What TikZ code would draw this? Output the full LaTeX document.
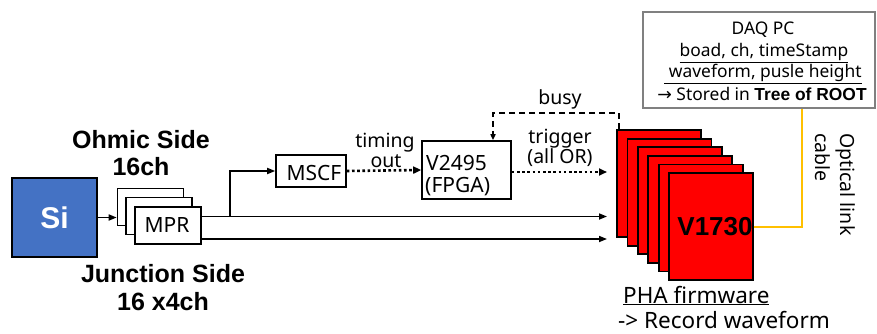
\documentclass[tikz,border=0pt]{standalone}
\usepackage{fontspec}
\setmainfont{Noto Sans}
\newfontfamily\djv{DejaVu Sans}
\newfontfamily\bsans{Liberation Sans}
\usetikzlibrary{arrows.meta,calc}
\definecolor{siblue}{HTML}{4472C4}
\definecolor{cardred}{HTML}{FF0000}
\definecolor{optorange}{HTML}{FFC000}
\definecolor{daqgray}{HTML}{808080}
\begin{document}
\begin{tikzpicture}[x=1pt,y=-1pt,
  box/.style={draw, line width=1.6pt, fill=white, inner sep=0pt},
  boxtxt/.style={inner sep=0pt, anchor=base, font=\fontsize{21}{24}\selectfont},
  card/.style={draw, line width=1.8pt, fill=cardred, minimum width=84pt, minimum height=107pt, inner sep=0pt},
  arr/.style={line width=1.6pt, -{Triangle[length=8pt,width=6pt]}},
  dotarr/.style={line width=2.6pt, dash pattern=on 2.6pt off 2.6pt, -{Triangle[length=8pt,width=7pt]}},
  busyline/.style={line width=1.6pt, dash pattern=on 6pt off 4pt, -{Triangle[length=6pt,width=5pt]}},
  lbl/.style={inner sep=0pt, anchor=base, font=\fontsize{19.5}{22}\selectfont},
  biglbl/.style={inner sep=0pt, anchor=base, font=\bsans\bfseries\fontsize{25}{29}\selectfont},
  daqline/.style={inner sep=0pt, anchor=base, font=\fontsize{17.4}{21}\selectfont},
  optline/.style={inner sep=0pt, anchor=base west, rotate=-90, font=\fontsize{19.5}{22}\selectfont},
  phaline/.style={inner sep=0pt, anchor=base west, font=\fontsize{22.5}{26}\selectfont}
]
\useasboundingbox (0,0) rectangle (877,334);

% Si detector
\node[draw, line width=2pt, fill=siblue, minimum width=85pt, minimum height=79pt, text=white,
      font=\bsans\bfseries\fontsize{30}{32}\selectfont] (si) at (54.5,217.5) {Si};

% side labels
\node[biglbl] (ohmic) at (141,148) {Ohmic Side};
\node[biglbl] (ohmicch) at (141,175) {16ch};
\node[biglbl] (junc) at (163,282) {Junction Side};
\node[biglbl] (juncch) at (163,310) {16 x4ch};

% MPR stack
\node[box, minimum width=66pt, minimum height=37pt] (mprA) at (150.5,207) {};
\node[box, minimum width=66pt, minimum height=37pt] (mprB) at (159,216) {};
\node[box, minimum width=66pt, minimum height=37pt] (mprC) at (168,225.5) {};
\node[boxtxt] (mprtxt) at (167,232) {MPR};

\draw[arr] (si.east) -- (si.east -| mprA.west);

% V1730 cards
\foreach \i in {0,...,5} {
  \node[card] (card\i) at ({659+10.4*\i},{183.5+8.6*\i}) {};
}
\node[inner sep=0pt, anchor=base, font=\bsans\bfseries\fontsize{26}{28}\selectfont] (v1730) at (715,235) {V1730};

% MSCF and V2495
\node[box, minimum width=70pt, minimum height=32pt] (mscf) at (311,171) {};
\node[boxtxt] (mscftxt) at (314,180) {MSCF};
\node[box, minimum width=89pt, minimum height=58pt] (v2495) at (466.5,170) {};
\node[boxtxt, anchor=base west] (v2495a) at (426,170) {V2495};
\node[boxtxt, anchor=base west] (v2495b) at (425,192) {(FPGA)};

% inputs into digitizer stack
\coordinate (in0) at (607,172);
\coordinate (in1) at (607,216.5);
\coordinate (in2) at (607,239);
\coordinate (br) at (230,216.5);

\draw[arr] (mprC.east |- in1) -- (in1);
\draw[arr] (mprC.east |- in2) -- (in2);
\draw[arr] (br) |- (mscf.west);

\draw[dotarr] (mscf.east) -- (v2495.west);
\draw[dotarr] (v2495.east |- in0) -- (in0);

\node[lbl] (timing) at (385,147) {timing};
\node[lbl] (out) at (386,167) {out};
\node[lbl] (trig) at (560,143) {trigger};
\node[lbl] (allor) at (560,163) {(all OR)};

% busy
\coordinate (bc) at (493,113);
\draw[busyline] ([xshift=3pt]card0.north west) |- (bc) -- (bc |- v2495.north);
\node[lbl] (busy) at (560,105) {busy};

% DAQ PC
\node[draw=daqgray, line width=1.5pt, fill=white, minimum width=232pt, minimum height=96pt, inner sep=0pt] (daq) at (759,60) {};
\node[daqline] (daq1) at (763,35) {DAQ PC};
\node[daqline] (daq2) at (764,57) {\underline{boad, ch, timeStamp}};
\node[daqline] (daq3) at (763,78) {\underline{\ waveform, pusle height}};
\node[daqline] (daq4) at (762,100) {{\djv →} Stored in {\bsans\bfseries Tree of ROOT}};

% optical link
\coordinate (oc) at (802,0);
\draw[optorange, line width=2pt] (card5.east) -| (daq.south -| oc);
\node[optline] (opt1) at (840,133) {Optical link};
\node[optline] (opt2) at (815,133) {cable};

% PHA firmware
\node[phaline] (pha1) at (623,303) {\underline{PHA firmware}};
\node[phaline] (pha2) at (618,328) {-> Record waveform};

\end{tikzpicture}
\end{document}
